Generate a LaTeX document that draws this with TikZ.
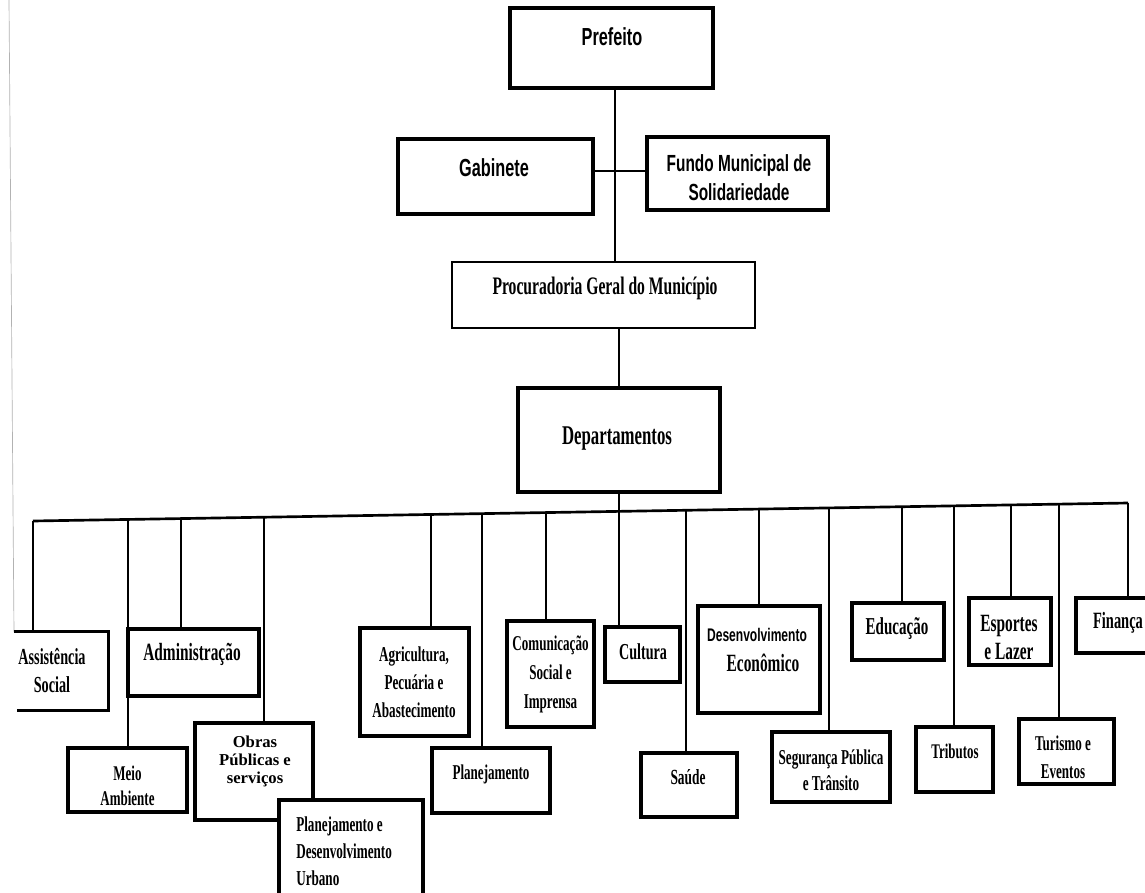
\documentclass[tikz,border=0pt]{standalone}
\usepackage{fontspec}
\setmainfont{Liberation Serif}
\newfontfamily\hsf[FakeStretch=0.66]{Liberation Sans}
\newfontfamily\tsf[FakeStretch=0.62]{Liberation Serif}
\newfontfamily\wsf{Liberation Serif}
\usetikzlibrary{fit}
\tikzset{
  box/.style={draw=black, line width=2.6pt, inner sep=0pt, fill=white},
  openbox/.style={inner sep=0pt},
  boxline/.style={draw=black, line width=2.6pt},
  conn/.style={draw=black, line width=1.6pt},
  lbl/.style={inner sep=0pt, align=center, text=black},
  ts/.style n args={2}{lbl, font=\tsf\bfseries\fontsize{#1}{#2}\selectfont},
  hs/.style n args={2}{lbl, font=\hsf\bfseries\fontsize{#1}{#2}\selectfont},
}
\begin{document}
\begin{tikzpicture}[x=0.75pt,y=-0.75pt]
\useasboundingbox (0,0) rectangle (1145,892);
\clip (0,0) rectangle (1145,892);
\fill[white] (0,0) rectangle (1145,892);

% scan edge line
\draw[gray!60, line width=0.5pt] (9,0) -- (14,632);

% ---- top part ----
\node[box, line width=3pt, fit={(510,8)(713,88)}] (pref) {};
\node[hs={18.5}{21}] (preft) at (612,37) {Prefeito};

\node[box, line width=3pt, fit={(398,139)(593,214)}] (gab) {};
\node[hs={18.5}{21}] (gabt) at (494,168) {Gabinete};

\node[box, line width=3pt, fit={(647,137)(828,210)}] (fundo) {};
\node[hs={17.5}{21.75}] (fundot) at (739,177.5) {Fundo Municipal de\\Solidariedade};

\node[box, line width=2.2pt, fit={(452,262)(755,328)}] (proc) {};
\node[ts={18.9}{21}] (proct) at (605,288) {Procuradoria Geral do Município};

\node[box, line width=3.5pt, fit={(518,388)(720,492)}] (dept) {};
\node[ts={20.3}{21}] (deptt) at (617,439) {Departamentos};

\coordinate (gj) at (615,171);
\draw[conn] (gj -| gab.east) -- (gj -| fundo.west);
\draw[conn] (pref.south -| gj) -- (proc.north -| gj);
\draw[conn] (proc.south -| dept.north) -- (dept.north);

% ---- bar coordinates ----
\coordinate (d1) at (33,521);
\coordinate (d2) at (128,519.5);
\coordinate (d3) at (181,518.6);
\coordinate (d4) at (264,517.2);
\coordinate (d5) at (431,514.5);
\coordinate (d6) at (482,513.6);
\coordinate (d7) at (546,512.6);
\coordinate (d9) at (686,510.3);
\coordinate (d10) at (759,509.1);
\coordinate (d11) at (829,507.9);
\coordinate (d12) at (902,506.7);
\coordinate (d13) at (954,505.9);
\coordinate (d14) at (1011,504.9);
\coordinate (d15) at (1059,504.1);
\coordinate (d16) at (1128,503);

% ---- department boxes ----
\node[openbox, fit={(14,632)(108,710)}] (assist) {};
\node[box, fit={(128,629)(259,696)}] (admin) {};
\node[box, fit={(68,748)(187,812)}] (meio) {};
\node[box, fit={(195,723)(313,820)}] (obras) {};
\node[box, fit={(279,800)(423,900)}] (pdu) {};
\node[box, fit={(360,628)(469,736)}] (agri) {};
\node[box, fit={(432,748)(550,813)}] (plan) {};
\node[box, fit={(507,621)(594,727)}] (comu) {};
\node[box, fit={(605,627)(680,682)}] (cult) {};
\node[box, fit={(641,753)(737,817)}] (saude) {};
\node[box, fit={(698,606)(820,713)}] (desenv) {};
\node[box, fit={(772,732)(890,802)}] (segur) {};
\node[box, fit={(852,603)(944,660)}] (educ) {};
\node[box, fit={(916,727)(993,792)}] (trib) {};
\node[box, fit={(969,598)(1051,665)}] (esp) {};
\node[box, fit={(1019,719)(1114,784)}] (tur) {};
\node[box, fit={(1076,598)(1170,653)}] (fin) {};
\draw[boxline] (assist.north west) -- (assist.north east) -- (assist.south east) -- ([xshift=2.25pt]assist.south west);

% connectors
\draw[conn, line width=2pt] (d1) -- (d16);
\draw[conn] (d1) -- (d1 |- assist.north);
\draw[conn] (d2) -- (d2 |- meio.north);
\draw[conn] (d3) -- (d3 |- admin.north);
\draw[conn] (d4) -- (d4 |- obras.north);
\draw[conn] (d5) -- (d5 |- agri.north);
\draw[conn] (d6) -- (d6 |- plan.north);
\draw[conn] (d7) -- (d7 |- comu.north);
\draw[conn] (dept.south) -- (dept.south |- cult.north);
\draw[conn] (d9) -- (d9 |- saude.north);
\draw[conn] (d10) -- (d10 |- desenv.north);
\draw[conn] (d11) -- (d11 |- segur.north);
\draw[conn] (d12) -- (d12 |- educ.north);
\draw[conn] (d13) -- (d13 |- trib.north);
\draw[conn] (d14) -- (d14 |- esp.north);
\draw[conn] (d15) -- (d15 |- tur.north);
\draw[conn] (d16) -- (d16 |- fin.north);

% ---- labels ----
\node[ts={17.2}{21}] (assistt) at (52,671) {Assistência\\Social};
\node[ts={18.6}{21}] (admint) at (192,654) {Administração};
\node[ts={15.7}{18.75}] (meiot) at (127.5,785.5) {Meio\\Ambiente};
\node[lbl, font=\wsf\bfseries\fontsize{12.5}{13.5}\selectfont] (obrast) at (255,761) {Obras\\Públicas e\\serviços};
\node[ts={15.9}{20.25}, align=left, anchor=west] (pdut) at (296,851) {Planejamento e\\Desenvolvimento\\Urbano};
\node[ts={15.9}{21}] (agrit) at (414,682) {Agricultura,\\Pecuária e\\Abastecimento};
\node[ts={15.8}{21}] (plant) at (491,774) {Planejamento};
\node[ts={15.8}{21.75}] (comut) at (550.5,674) {Comunicação\\Social e\\Imprensa};
\node[ts={17.1}{21}] (cultt) at (643,652) {Cultura};
\node[ts={16.2}{21}] (saudet) at (688,777) {Saúde};
\node[hs={13.7}{21}] (desenvt) at (757,635) {Desenvolvimento};
\node[ts={18.6}{21}] (econt) at (763,663) {Econômico};
\node[ts={15.9}{19.5}] (segurt) at (831,770) {Segurança Pública\\e Trânsito};
\node[ts={18.2}{21}] (educt) at (897,629) {Educação};
\node[ts={15.6}{21}] (tribt) at (955,751) {Tributos};
\node[ts={18.6}{21}] (espt) at (1009,637) {Esportes\\e Lazer};
\node[ts={15.8}{21}] (turt) at (1063,757) {Turismo e\\Eventos};
\node[ts={17.5}{21}] (fint) at (1118,623) {Finança};
\end{tikzpicture}
\end{document}
